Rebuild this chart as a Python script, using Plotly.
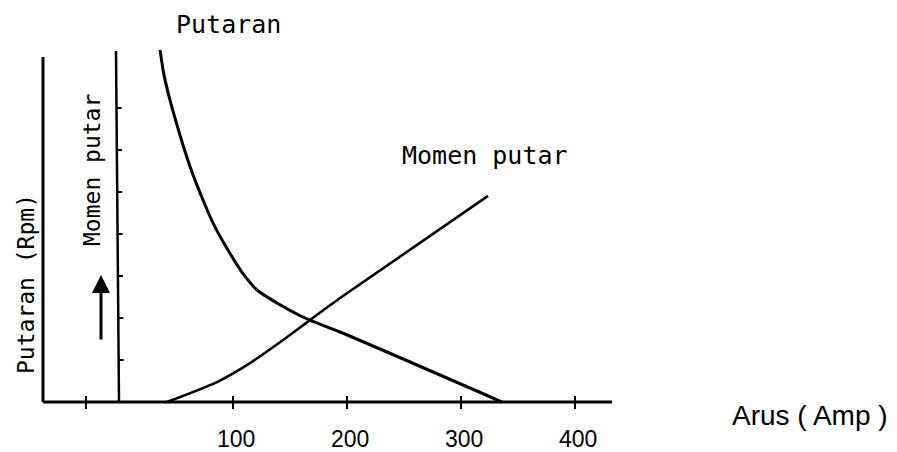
import plotly.graph_objects as go

# ---- data ----
putaran_arus = [36.0, 39.5, 44.7, 50.9, 57.5, 64.9, 73.7, 83.3, 95.6, 109.6, 121.1, 138.6, 163.2, 193.9, 336.0]
putaran_rpm = [100.6, 93.4, 86.3, 79.1, 72.0, 64.9, 57.7, 50.6, 43.4, 36.3, 32.0, 28.3, 24.0, 20.0, 0]

momen_arus = [42.1, 86.0, 114.9, 143.9, 167.5, 193.9, 323.7]
momen_val = [0, 5.7, 11.1, 17.7, 23.4, 29.7, 58.9]

x_tick_vals = [-29, 100, 200, 300, 400]
x_tick_labels = ["", "100", "200", "300", "400"]
momen_tick_vals = [12, 24, 36, 48, 60, 72, 84]

# ---- pixel <-> data mapping helpers (layout) ----
OFF = 8                          # page body margin
W, H = 897 - OFF, 452 - OFF      # figure fills the rest of the window
PX0, PXS = 119, 1.14   # x: data 0 at page px 119, 1.14 px per unit
PY0, PYS = 402, 3.5    # y: data 0 at page px 402, 3.5 px per unit
def dx(px): return (px - PX0) / PXS
def dy(py): return (PY0 - py) / PYS

fig = go.Figure()
BLK = "#000000"

# main curves
fig.add_trace(go.Scatter(x=putaran_arus, y=putaran_rpm, mode="lines",
                         line=dict(color=BLK, width=3, shape="spline", smoothing=0.9),
                         hoverinfo="skip", showlegend=False))
fig.add_trace(go.Scatter(x=momen_arus, y=momen_val, mode="lines",
                         line=dict(color=BLK, width=2.6, shape="spline", smoothing=0.6),
                         hoverinfo="skip", showlegend=False))

# axes lines
xmin_axis, xmax_axis = dx(43), dx(612)
fig.add_shape(type="line", x0=xmin_axis, x1=xmax_axis, y0=0, y1=0, line=dict(color=BLK, width=3))
fig.add_shape(type="line", x0=xmin_axis, x1=xmin_axis, y0=0, y1=dy(57), line=dict(color=BLK, width=3))
fig.add_shape(type="line", x0=0, x1=dx(116), y0=0, y1=dy(51), line=dict(color=BLK, width=2.5))

# x ticks
for v in x_tick_vals:
    fig.add_shape(type="line", x0=v, x1=v, y0=dy(396), y1=dy(409), line=dict(color=BLK, width=2))
for v, lab in zip(x_tick_vals, x_tick_labels):
    if lab:
        fig.add_annotation(x=v + 3, y=dy(439), text=lab, showarrow=False,
                           xanchor="center", yanchor="middle",
                           font=dict(family="Liberation Sans", size=23, color=BLK))
# momen axis ticks
for v in momen_tick_vals:
    xl = -2.6 * v / 100
    fig.add_shape(type="line", x0=xl, x1=xl + dx(124) - dx(119), y0=v, y1=v,
                  line=dict(color=BLK, width=2))

# arrow
fig.add_annotation(x=dx(101), y=dy(275), ax=dx(101), ay=dy(341), xref="x", yref="y",
                   axref="x", ayref="y", showarrow=True, arrowhead=2, arrowsize=1.2,
                   arrowwidth=3, arrowcolor=BLK, text="")

mono = "DejaVu Sans Mono"
def ann(text, px, py, size, family=mono, angle=0):
    fig.add_annotation(x=(px - OFF) / W, y=1 - (py - OFF) / H, xref="paper", yref="paper",
                       text=text, showarrow=False, textangle=angle,
                       xanchor="center", yanchor="middle",
                       font=dict(family=family, size=size, color=BLK))

ann("Putaran", 228, 25, 25)
ann("Momen putar", 485, 155, 25)
ann("Putaran (Rpm)", 26, 284, 23, angle=-90)
ann("Momen putar", 92, 170, 23, angle=-90)
ann("Arus ( Amp )", 810, 415, 28, family="Liberation Sans")

fig.update_layout(
    width=W, height=H, margin=dict(l=0, r=0, t=0, b=0),
    paper_bgcolor="white", plot_bgcolor="white", showlegend=False,
    xaxis=dict(range=[dx(OFF), dx(OFF + W)], visible=False, fixedrange=True),
    yaxis=dict(range=[dy(OFF + H), dy(OFF)], visible=False, fixedrange=True),
)
fig.write_html("out.html")
